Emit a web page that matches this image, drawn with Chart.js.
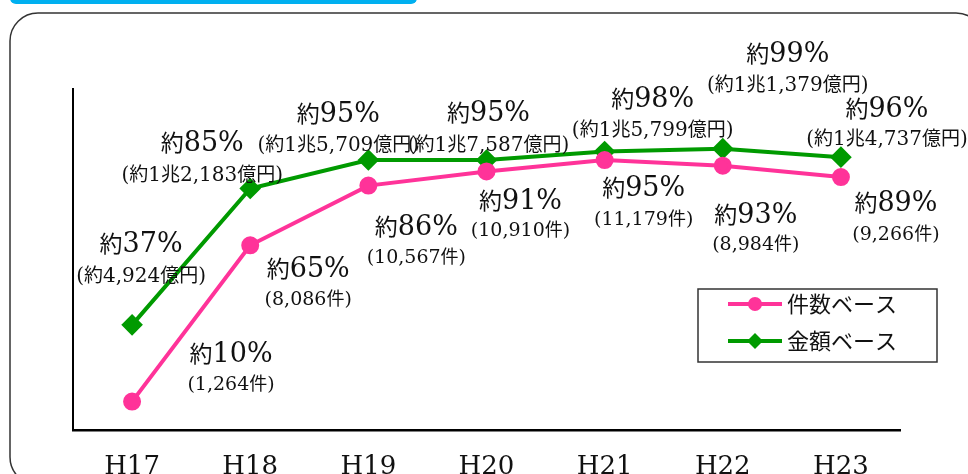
<!DOCTYPE html>
<html>
<head>
<meta charset="utf-8">
<script src="https://cdn.jsdelivr.net/npm/chart.js@4/dist/chart.umd.min.js"></script>
<style>
  html, body { margin:0; padding:0; background:#fff }
  canvas { display:block }
</style>
</head>
<body>
<canvas id="c" width="968" height="474"></canvas>
<script>
// categories and series
const years = ['H17','H18','H19','H20','H21','H22','H23']
const countPct = [10, 65, 86, 91, 95, 93, 89]      // 件数ベース
const amountPct = [37, 85, 95, 95, 98, 99, 96]     // 金額ベース
const counts = ['1,264','8,086','10,567','10,910','11,179','8,984','9,266']
const amounts = ['約4,924億円','約1兆2,183億円','約1兆5,709億円','約1兆7,587億円','約1兆5,799億円','約1兆1,379億円','約1兆4,737億円']

// label placement relative to each point: [dx, dy big, dy small]
const countOffsets = [[99,-50,-19],[58,22,53],[48,39,70],[34,28,58],[39,26,58],[33,47,77],[55,24,56]]
const amountOffsets = [[9,-83,-50],[-48,-47,-14],[-30,-48,-16],[2,-49,-16],[48,-55,-23],[65,-97,-65],[46,-50,-19]]

const PINK = '#ff3399'
const GREEN = '#009a00'
const LATIN = '"DejaVu Serif", serif'
const CJK = '"Noto Sans CJK JP", sans-serif'

// draw text with CJK chars in one font and the rest in another, centred on x
function drawMixed(ctx, text, x, y, latinSize, cjkSize){
  const runs = []
  for (const ch of text){
    const isCjk = /[\u3000-\u9fff\uff00-\uffef]/.test(ch)
    const last = runs[runs.length-1]
    if (last && last.cjk === isCjk) last.t += ch
    else runs.push({ t: ch, cjk: isCjk })
  }
  let total = 0
  runs.forEach(r => { ctx.font = r.cjk ? cjkSize+'px '+CJK : latinSize+'px '+LATIN; r.w = ctx.measureText(r.t).width; total += r.w })
  let cx = x - total/2
  ctx.textAlign = 'left'; ctx.textBaseline = 'alphabetic'
  runs.forEach(r => { ctx.font = r.cjk ? cjkSize+'px '+CJK : latinSize+'px '+LATIN; ctx.fillText(r.t, cx, y); cx += r.w })
}

function roundRect(ctx, x, y, w, h, r){
  ctx.beginPath()
  ctx.moveTo(x+r, y); ctx.lineTo(x+w-r, y); ctx.arcTo(x+w, y, x+w, y+r, r)
  ctx.lineTo(x+w, y+h-r); ctx.arcTo(x+w, y+h, x+w-r, y+h, r)
  ctx.lineTo(x+r, y+h); ctx.arcTo(x, y+h, x, y+h-r, r)
  ctx.lineTo(x, y+r); ctx.arcTo(x, y, x+r, y, r)
  ctx.closePath()
}

const frame = {
  id: 'frame',
  beforeDraw(chart){
    const ctx = chart.ctx
    ctx.save()
    ctx.fillStyle = '#00b0f0'
    roundRect(ctx, 10, -14, 407, 18, 6); ctx.fill()
    ctx.strokeStyle = '#333'; ctx.lineWidth = 1.5
    roundRect(ctx, 10, 13, 974, 472, 28); ctx.stroke()
    ctx.restore()
  }
}

const pointLabels = {
  id: 'pointLabels',
  afterDatasetsDraw(chart){
    const ctx = chart.ctx
    ctx.save(); ctx.fillStyle = '#111'
    const sets = [
      { meta: chart.getDatasetMeta(0), vals: countPct, sub: counts.map(c => '('+c+'件)'), off: countOffsets, fs: [19, 18] },
      { meta: chart.getDatasetMeta(1), vals: amountPct, sub: amounts.map(a => '('+a+')'), off: amountOffsets, fs: [20, 19] }
    ]
    sets.forEach(s => {
      s.meta.data.forEach((pt, i) => {
        const o = s.off[i]
        drawMixed(ctx, '約'+s.vals[i]+'%', pt.x+o[0], pt.y+o[1]+10, 27, 23)
        drawMixed(ctx, s.sub[i], pt.x+o[0], pt.y+o[2]+7, s.fs[0], s.fs[1])
      })
    })
    ctx.restore()
  }
}

const boxLegend = {
  id: 'boxLegend',
  afterDraw(chart){
    const ctx = chart.ctx
    ctx.save()
    ctx.fillStyle = '#fff'; ctx.fillRect(698, 289, 239, 73)
    ctx.strokeStyle = '#333'; ctx.lineWidth = 1.5; ctx.strokeRect(698, 289, 239, 73)
    chart.data.datasets.forEach((ds, i) => {
      const y = 304 + i*37
      ctx.strokeStyle = ds.borderColor; ctx.lineWidth = 4
      ctx.beginPath(); ctx.moveTo(728, y); ctx.lineTo(782, y); ctx.stroke()
      ctx.fillStyle = ds.borderColor
      ctx.beginPath()
      if (ds.pointStyle === 'rectRot'){ ctx.moveTo(755, y-8); ctx.lineTo(763, y); ctx.lineTo(755, y+8); ctx.lineTo(747, y) }
      else ctx.arc(755, y, 7, 0, Math.PI*2)
      ctx.fill()
      ctx.fillStyle = '#111'; ctx.font = '22px '+CJK; ctx.textAlign = 'left'; ctx.textBaseline = 'middle'
      ctx.fillText(ds.label, 787, y)
    })
    ctx.restore()
  }
}

new Chart(document.getElementById('c'), {
  type: 'line',
  data: {
    labels: years,
    datasets: [
      { label: '件数ベース', data: countPct, borderColor: PINK, backgroundColor: PINK, borderWidth: 4, pointStyle: 'circle', pointRadius: 7, pointHoverRadius: 7 },
      { label: '金額ベース', data: amountPct, borderColor: GREEN, backgroundColor: GREEN, borderWidth: 4, pointStyle: 'rectRot', pointRadius: 8, pointHoverRadius: 8 }
    ]
  },
  options: {
    responsive: false,
    animation: false,
    events: [],
    layout: { padding: { left: 73, right: 68, top: 89, bottom: 0 } },
    plugins: { legend: { display: false }, tooltip: { enabled: false } },
    scales: {
      x: {
        offset: true,
        grid: { display: false, drawTicks: false },
        border: { display: true, color: '#000', width: 2.5 },
        ticks: { color: '#111', font: { family: 'DejaVu Serif', size: 26 }, padding: 22 },
        afterFit: s => { s.height = 44 }
      },
      y: {
        min: 0, max: 120,
        grid: { display: false, drawTicks: false },
        border: { display: true, color: '#000', width: 2 },
        ticks: { display: false },
        afterFit: s => { s.width = 0 }
      }
    }
  },
  plugins: [frame, pointLabels, boxLegend]
})
</script>
</body>
</html>
